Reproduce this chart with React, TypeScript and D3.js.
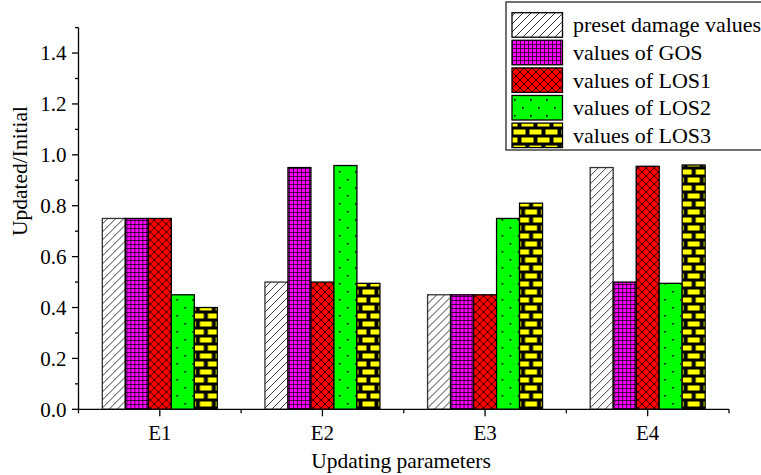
import React from "react";
import * as d3 from "d3";

const categories = ["E1", "E2", "E3", "E4"];
const seriesNames = [
  "preset damage values",
  "values of GOS",
  "values of LOS1",
  "values of LOS2",
  "values of LOS3",
];
const presetValues = [0.75, 0.5, 0.45, 0.95];
const gosValues = [0.75, 0.95, 0.45, 0.5];
const los1Values = [0.75, 0.5, 0.45, 0.955];
const los2Values = [0.45, 0.958, 0.75, 0.495];
const los3Values = [0.4, 0.495, 0.81, 0.96];
const yMajorTicks = [0, 0.2, 0.4, 0.6, 0.8, 1.0, 1.2, 1.4];
const yMinorTicks = [0.1, 0.3, 0.5, 0.7, 0.9, 1.1, 1.3, 1.5];

const seriesValues = [presetValues, gosValues, los1Values, los2Values, los3Values];
const patternIds = ["pHatch", "pGrid", "pCross", "pDots", "pBrick"];

const W = 761;
const H = 475;
const left = 78.5;
const right = 729;
const bottom = 409.3;
const top = 27.6;
const serif = "Liberation Serif, DejaVu Serif, serif";
const tickStyle: React.CSSProperties = { fontFamily: serif, fontSize: "21px" };
const titleStyle: React.CSSProperties = { fontFamily: serif, fontSize: "21.5px" };
const legendStyle: React.CSSProperties = { fontFamily: serif, fontSize: "22px" };

export default function App() {
  const x = d3
    .scaleBand<string>()
    .domain(categories)
    .range([left, right])
    .paddingInner(0.293)
    .paddingOuter(0.1465);
  const xs = d3
    .scaleBand<string>()
    .domain(seriesNames)
    .range([0, x.bandwidth()]);
  const y = d3.scaleLinear().domain([0, 1.5]).range([bottom, top]);
  const step = x.step();
  const boundaries = d3.range(categories.length + 1).map((i) => left + i * step);

  const legendX = 506;
  const legendY = 2;
  const rowPitch = 27.6;
  const swatchW = 50.5;
  const swatchH = 24.5;

  return (
    <svg
      width={W}
      height={H}
      style={{ position: "absolute", left: 0, top: 0, background: "#fff" }}
    >
      <defs>
        <pattern id="pHatch" patternUnits="userSpaceOnUse" width={8} height={8}>
          <rect width={8} height={8} fill="#fff" />
          <path d="M0,8 L8,0 M-2,2 L2,-2 M6,10 L10,6" stroke="#222" strokeWidth={0.9} />
        </pattern>
        <pattern id="pGrid" patternUnits="userSpaceOnUse" width={4} height={4}>
          <rect width={4} height={4} fill="#ff00ff" />
          <path d="M0,0.4 L4,0.4 M0.4,0 L0.4,4" stroke="#000" strokeWidth={0.8} />
        </pattern>
        <pattern id="pCross" patternUnits="userSpaceOnUse" width={8} height={8}>
          <rect width={8} height={8} fill="#ff0000" />
          <path
            d="M0,0 L8,8 M0,8 L8,0 M-2,6 L2,10 M6,-2 L10,2 M-2,2 L2,-2 M6,10 L10,6"
            stroke="#000"
            strokeWidth={0.8}
          />
        </pattern>
        <pattern id="pDots" patternUnits="userSpaceOnUse" width={16} height={16}>
          <rect width={16} height={16} fill="#00ff00" />
          <rect x={2} y={3} width={1.6} height={1.6} fill="#000" />
          <rect x={10} y={11} width={1.6} height={1.6} fill="#000" />
        </pattern>
        <pattern id="pBrick" patternUnits="userSpaceOnUse" width={16} height={16}>
          <rect width={16} height={16} fill="#000" />
          <rect x={1.5} y={1.5} width={12} height={5} fill="#ffff00" />
          <rect x={-6.5} y={9.5} width={12} height={5} fill="#ffff00" />
          <rect x={9.5} y={9.5} width={12} height={5} fill="#ffff00" />
        </pattern>
      </defs>

      {/* bars */}
      {categories.map((cat, ci) => (
        <g key={cat} transform={`translate(${x(cat)},0)`}>
          {seriesNames.map((s, si) => {
            const v = seriesValues[si][ci];
            return (
              <rect
                key={s}
                x={xs(s)}
                y={y(v)}
                width={xs.bandwidth()}
                height={bottom - y(v)}
                fill={`url(#${patternIds[si]})`}
                stroke={si === 0 ? "#333" : "#000"}
                strokeWidth={1.3}
              />
            );
          })}
        </g>
      ))}

      {/* y axis */}
      <line x1={left} x2={left} y1={top} y2={bottom} stroke="#000" strokeWidth={1.3} />
      {yMajorTicks.map((t) => (
        <g key={`ym${t}`}>
          <line x1={left - 6.5} x2={left} y1={y(t)} y2={y(t)} stroke="#000" strokeWidth={1.3} />
          <text x={left - 12} y={y(t)} dy="0.35em" textAnchor="end" style={tickStyle} fill="#000">
            {t.toFixed(1)}
          </text>
        </g>
      ))}
      {yMinorTicks.map((t) => (
        <line
          key={`yn${t}`}
          x1={left - 3.5}
          x2={left}
          y1={y(t)}
          y2={y(t)}
          stroke="#000"
          strokeWidth={1.3}
        />
      ))}

      {/* x axis */}
      <line x1={left} x2={right} y1={bottom} y2={bottom} stroke="#000" strokeWidth={1.3} />
      {boundaries.map((b, i) => (
        <line key={`xb${i}`} x1={b} x2={b} y1={bottom} y2={bottom + 4} stroke="#000" strokeWidth={1.3} />
      ))}
      {categories.map((cat) => {
        const cx = (x(cat) as number) + x.bandwidth() / 2;
        return (
          <g key={`xt${cat}`}>
            <line x1={cx} x2={cx} y1={bottom} y2={bottom + 7} stroke="#000" strokeWidth={1.3} />
            <text x={cx} y={440} textAnchor="middle" style={tickStyle} fill="#000">
              {cat}
            </text>
          </g>
        );
      })}

      {/* axis titles */}
      <text x={401} y={468} textAnchor="middle" style={titleStyle} fill="#000">
        Updating parameters
      </text>
      <text transform="translate(27,171) rotate(-90)" textAnchor="middle" style={titleStyle} fill="#000">
        Updated/Initial
      </text>

      {/* legend */}
      <rect
        x={legendX}
        y={legendY}
        width={270}
        height={148}
        fill="#fff"
        stroke="#444"
        strokeWidth={1.5}
      />
      {seriesNames.map((s, si) => {
        const ry = 12.7 + si * rowPitch;
        return (
          <g key={`lg${s}`}>
            <rect
              x={512}
              y={ry}
              width={swatchW}
              height={swatchH}
              fill={`url(#${patternIds[si]})`}
              stroke="#000"
              strokeWidth={1.3}
            />
            <text x={573} y={ry + swatchH / 2 + 7.5} style={legendStyle} fill="#000">
              {s}
            </text>
          </g>
        );
      })}
    </svg>
  );
}
